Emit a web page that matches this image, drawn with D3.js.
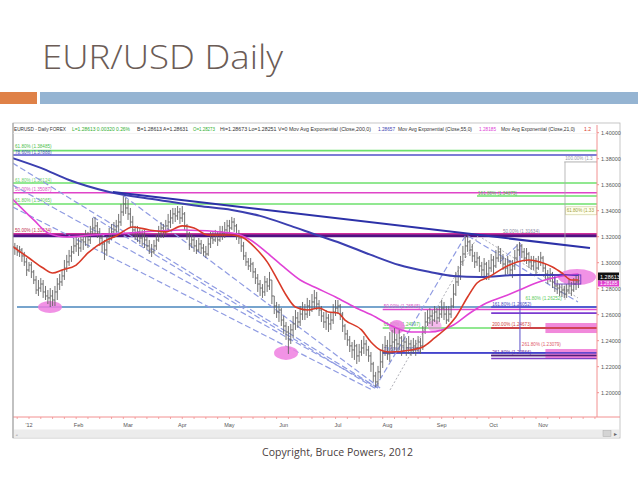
<!DOCTYPE html>
<html><head><meta charset="utf-8">
<script src="https://cdn.jsdelivr.net/npm/d3@7"></script>
<style>body{margin:0;background:#fff;}svg{display:block;}</style>
</head><body>
<svg id="c" width="638" height="479"></svg>
<script>
// ---------------- DATA ----------------
const firstIndex = -6; // trading-day index of first bar (Jan 2 2012 = 0)
const highs = [
1.3152,1.3136,1.3129,1.3113,1.3083,1.3036,
1.3006,1.3006,1.2944,1.2898,1.2867,1.2882,1.2867,1.2821,1.2790,1.2805,
1.2790,1.2821,1.2882,1.2913,1.2944,1.3021,1.3060,1.3098,1.3129,1.3190,
1.3206,1.3190,1.3221,1.3221,1.3252,1.3237,1.3283,1.3344,1.3352,1.3313,
1.3267,1.3221,1.3175,1.3206,1.3267,1.3298,1.3313,1.3329,1.3375,1.3452,
1.3513,1.3498,1.3483,1.3421,1.3360,1.3283,1.3283,1.3267,1.3252,1.3252,
1.3206,1.3175,1.3144,1.3175,1.3221,1.3283,1.3313,1.3298,1.3329,1.3375,
1.3406,1.3421,1.3421,1.3436,1.3421,1.3436,1.3390,1.3298,1.3237,1.3221,
1.3206,1.3175,1.3190,1.3175,1.3144,1.3129,1.3190,1.3237,1.3237,1.3252,
1.3237,1.3283,1.3283,1.3313,1.3329,1.3329,1.3352,1.3344,1.3298,1.3252,
1.3206,1.3160,1.3083,1.3036,1.3036,1.3006,1.2959,1.2913,1.2867,1.2836,
1.2898,1.2882,1.2929,1.2867,1.2744,1.2698,1.2682,1.2651,1.2590,1.2544,
1.2513,1.2529,1.2590,1.2636,1.2621,1.2667,1.2698,1.2682,1.2729,1.2713,
1.2759,1.2790,1.2775,1.2713,1.2667,1.2621,1.2636,1.2605,1.2621,1.2682,
1.2713,1.2713,1.2682,1.2621,1.2529,1.2483,1.2436,1.2390,1.2406,1.2375,
1.2375,1.2406,1.2436,1.2406,1.2360,1.2313,1.2237,1.2160,1.2206,1.2329,
1.2375,1.2436,1.2406,1.2467,1.2483,1.2498,1.2452,1.2483,1.2436,1.2452,
1.2421,1.2436,1.2406,1.2421,1.2406,1.2436,1.2421,1.2513,1.2621,1.2636,
1.2651,1.2636,1.2667,1.2651,1.2667,1.2713,1.2698,1.2667,1.2667,1.2729,
1.2836,1.2929,1.2975,1.3052,1.3129,1.3206,1.3213,1.3175,1.3144,1.3083,
1.3083,1.3052,1.3006,1.3036,1.3006,1.3021,1.3067,1.3052,1.3098,1.3129,
1.3113,1.3067,1.3036,1.3052,1.3021,1.3021,1.3098,1.3144,1.3160,1.3144,
1.3113,1.3113,1.3083,1.3052,1.3052,1.3036,1.3052,1.3083,1.3052,1.2990,
1.2944,1.2959,1.2929,1.2882,1.2867,1.2836,1.2836,1.2821,1.2836,1.2867,
1.2852,1.2882,1.2898,1.2913];
const lows = [
1.3060,1.3052,1.3044,1.3006,1.2975,1.2898,
1.2929,1.2882,1.2836,1.2759,1.2744,1.2775,1.2729,1.2713,1.2682,1.2659,
1.2667,1.2667,1.2713,1.2790,1.2821,1.2867,1.2929,1.2975,1.3006,1.3067,
1.3083,1.3052,1.3083,1.3098,1.3129,1.3113,1.3144,1.3206,1.3221,1.3190,
1.3129,1.3083,1.3021,1.3052,1.3144,1.3175,1.3190,1.3206,1.3237,1.3283,
1.3360,1.3375,1.3329,1.3267,1.3206,1.3175,1.3160,1.3144,1.3129,1.3113,
1.3098,1.3067,1.3044,1.3067,1.3098,1.3160,1.3190,1.3190,1.3206,1.3252,
1.3267,1.3298,1.3313,1.3329,1.3298,1.3313,1.3252,1.3175,1.3098,1.3113,
1.3083,1.3067,1.3083,1.3067,1.3052,1.3036,1.3052,1.3113,1.3144,1.3160,
1.3129,1.3160,1.3175,1.3190,1.3221,1.3221,1.3252,1.3237,1.3175,1.3144,
1.3083,1.3021,1.2975,1.2944,1.2929,1.2882,1.2836,1.2775,1.2744,1.2729,
1.2744,1.2775,1.2790,1.2682,1.2605,1.2575,1.2544,1.2513,1.2452,1.2406,
1.2298,1.2375,1.2421,1.2483,1.2498,1.2513,1.2559,1.2559,1.2575,1.2590,
1.2621,1.2651,1.2636,1.2590,1.2544,1.2498,1.2483,1.2467,1.2483,1.2529,
1.2590,1.2605,1.2559,1.2467,1.2406,1.2360,1.2313,1.2267,1.2252,1.2221,
1.2237,1.2283,1.2298,1.2283,1.2237,1.2160,1.2083,1.2044,1.2052,1.2113,
1.2190,1.2283,1.2252,1.2237,1.2298,1.2329,1.2313,1.2329,1.2283,1.2313,
1.2283,1.2298,1.2283,1.2298,1.2283,1.2313,1.2298,1.2329,1.2452,1.2513,
1.2529,1.2513,1.2544,1.2529,1.2544,1.2575,1.2559,1.2529,1.2544,1.2575,
1.2651,1.2744,1.2821,1.2867,1.2975,1.3036,1.3083,1.3052,1.3006,1.2959,
1.2975,1.2929,1.2898,1.2882,1.2867,1.2867,1.2929,1.2913,1.2959,1.3006,
1.2990,1.2944,1.2898,1.2913,1.2898,1.2882,1.2944,1.3006,1.3052,1.3036,
1.3006,1.2990,1.2959,1.2944,1.2944,1.2913,1.2944,1.2975,1.2929,1.2867,
1.2836,1.2852,1.2805,1.2775,1.2759,1.2744,1.2736,1.2729,1.2729,1.2759,
1.2744,1.2775,1.2790,1.2805];
const closes = [
1.3113,1.3083,1.3098,1.3052,1.3006,1.2944,
1.2982,1.2929,1.2867,1.2790,1.2805,1.2836,1.2775,1.2744,1.2729,1.2744,
1.2713,1.2775,1.2836,1.2852,1.2898,1.2959,1.3006,1.3052,1.3083,1.3129,
1.3144,1.3113,1.3175,1.3160,1.3206,1.3175,1.3237,1.3267,1.3283,1.3237,
1.3190,1.3144,1.3098,1.3160,1.3206,1.3237,1.3252,1.3283,1.3313,1.3390,
1.3452,1.3421,1.3375,1.3313,1.3252,1.3206,1.3237,1.3190,1.3206,1.3175,
1.3129,1.3098,1.3083,1.3129,1.3175,1.3221,1.3267,1.3237,1.3283,1.3313,
1.3344,1.3375,1.3360,1.3390,1.3344,1.3375,1.3283,1.3206,1.3144,1.3175,
1.3129,1.3098,1.3144,1.3113,1.3083,1.3067,1.3144,1.3190,1.3175,1.3206,
1.3175,1.3237,1.3221,1.3252,1.3283,1.3267,1.3313,1.3283,1.3206,1.3190,
1.3129,1.3052,1.3006,1.2975,1.2990,1.2929,1.2882,1.2836,1.2805,1.2775,
1.2852,1.2821,1.2867,1.2744,1.2667,1.2621,1.2636,1.2559,1.2513,1.2467,
1.2406,1.2483,1.2529,1.2575,1.2544,1.2605,1.2636,1.2605,1.2667,1.2636,
1.2698,1.2729,1.2682,1.2636,1.2590,1.2544,1.2575,1.2529,1.2559,1.2621,
1.2651,1.2667,1.2605,1.2513,1.2452,1.2406,1.2360,1.2329,1.2360,1.2283,
1.2313,1.2344,1.2375,1.2329,1.2283,1.2221,1.2129,1.2083,1.2160,1.2237,
1.2313,1.2360,1.2298,1.2360,1.2390,1.2406,1.2375,1.2421,1.2360,1.2390,
1.2344,1.2375,1.2329,1.2360,1.2344,1.2390,1.2360,1.2467,1.2544,1.2575,
1.2590,1.2559,1.2621,1.2575,1.2605,1.2651,1.2605,1.2559,1.2605,1.2667,
1.2759,1.2852,1.2898,1.3006,1.3067,1.3129,1.3160,1.3098,1.3052,1.3006,
1.3036,1.2975,1.2944,1.2990,1.2913,1.2959,1.3021,1.2975,1.3036,1.3083,
1.3036,1.2990,1.2959,1.3006,1.2944,1.2975,1.3036,1.3098,1.3129,1.3083,
1.3036,1.3067,1.3006,1.2975,1.3006,1.2959,1.3006,1.3036,1.2959,1.2913,
1.2882,1.2913,1.2852,1.2821,1.2805,1.2775,1.2790,1.2759,1.2790,1.2821,
1.2790,1.2836,1.2852,1.2861];
const lastQuote = 1.28613;
const lastEma55 = 1.28185;

// moving averages: [trading-day index, price]
const ema200 = [[-7,1.3805],[5,1.3729],[17,1.3636],[34,1.3544],[55,1.3483],[72,1.3436],[86,1.3406],[98,1.3360],
  [111,1.3283],[122,1.3213],[132,1.3152],[145,1.3060],[157,1.2982],[170,1.2929],[180,1.2898],[191,1.2890],
  [208,1.2906],[225,1.2906],[233,1.2906]];
const ema55 = [[-7,1.3490],[2,1.3329],[8,1.3229],[16,1.3198],[27,1.3213],[42,1.3229],[65,1.3252],[86,1.3229],
  [94,1.3175],[101,1.3075],[108,1.2967],[115,1.2867],[121,1.2813],[130,1.2736],[138,1.2659],[147,1.2582],
  [153,1.2521],[162,1.2467],[170,1.2467],[180,1.2521],[187,1.2613],[194,1.2690],[203,1.2752],[208,1.2790],
  [215,1.2844],[222,1.2882],[229,1.2906],[233,1.2913]];
const ema21 = [[-7,1.3125],[0,1.3036],[6,1.2959],[10,1.2921],[14,1.2944],[20,1.2982],[25,1.3075],[33,1.3175],
  [37,1.3206],[44,1.3275],[51,1.3252],[58,1.3237],[65,1.3283],[70,1.3267],[76,1.3213],[81,1.3213],[86,1.3213],
  [91,1.3190],[96,1.3113],[101,1.3006],[105,1.2882],[109,1.2752],[113,1.2659],[118,1.2636],[123,1.2651],
  [127,1.2621],[131,1.2613],[134,1.2559],[141,1.2483],[145,1.2390],[149,1.2329],[153,1.2313],[162,1.2329],
  [167,1.2352],[172,1.2421],[177,1.2498],[181,1.2582],[186,1.2736],[190,1.2844],[195,1.2890],[202,1.2967],
  [207,1.3006],[212,1.3021],[218,1.2998],[222,1.2967],[226,1.2921],[230,1.2867],[233,1.2867]];

const monthLabels = ["'12","Feb","Mar","Apr","May","Jun","Jul","Aug","Sep","Oct","Nov"];
const monthIndex = [0,21,42,65,85,108,131,152,175,197,218];
const priceTicks = [1.40,1.38,1.36,1.34,1.32,1.30,1.28,1.26,1.24,1.22,1.20];

// Fibonacci levels across the whole chart
const fullLevelPrices = [1.3862,1.3829,1.3613,1.3538,1.3452,1.3221,1.3206,1.2659];
const fullLevelLabels = ["61.80% (1.38485)","78.60% (1.37888)","61.80% (1.36124)","50.00% (1.35087)","61.80% (1.34065)","50.00% (1.31634)","",""];
// partial levels: start index, price, label
const partStart = [190,227,150,196,196,150,196,150,196,196];
const partPrices = [1.3513,1.3775,1.2640,1.2659,1.2612,1.2498,1.2498,1.2306,1.2286,1.2263];
const partLabels = ["161.80% (1.34875)","100.00% (1.3","50.00% (1.26545)","161.80% (1.26052)","","61.80% (1.24997)","200.00% (1.24673)","78.60% (1.23060)","261.80% (1.22566)",""];

// trend / fan lines: [idx1, price1, idx2, price2]
const trendLine = [35.6,1.3544,237.9,1.3113];
const fanLines = [[-7,1.3767,148,1.2036],[-7,1.3598,148,1.2036],[-7,1.3429,145.5,1.2021],
  [40.3,1.3513,148.9,1.2036],[27.1,1.3352,147.2,1.2029],[146.7,1.2036,185.3,1.3213],
  [186.2,1.3206,232.8,1.2698],[199.7,1.3006,208.2,1.3152]];
const dotLines = [[153.1,1.2021,190.4,1.3206],[192.1,1.3190,232.8,1.2729]];

// pink highlight ellipses [idx, price]
const highlights = [[8.9,1.2659],[109,1.2306],[156,1.2506],[172,1.2513],[232.4,1.2890]];

// ---------------- DRAW ----------------
const svg = d3.select("#c");
const x = d3.scaleLinear().domain([-7,241]).range([12.5,597.3]);
const y = d3.scaleLinear().domain([1.20,1.40]).range([392.7,132.7]);
const PL = 13, PR = 597, PT = 125, PB = 417;
const SMALL = "'Liberation Sans',Arial,sans-serif";

// slide decoration
svg.append("text").attr("x",42).attr("y",69).text("EUR/USD Daily")
  .attr("font-family","'Open Sans', sans-serif").attr("font-weight",300)
  .attr("font-size",33).attr("fill","#6b5c56").attr("textLength",241).attr("lengthAdjust","spacingAndGlyphs");
svg.append("rect").attr("x",0).attr("y",92).attr("width",37).attr("height",12).attr("fill","#df8147");
svg.append("rect").attr("x",40).attr("y",92).attr("width",598).attr("height",12).attr("fill","#95b4d2");
svg.append("text").attr("x",262).attr("y",456).text("Copyright, Bruce Powers, 2012")
  .attr("font-family","'Open Sans', sans-serif").attr("font-size",10.5).attr("fill","#4a4040")
  .attr("textLength",151).attr("lengthAdjust","spacing");

// chart image frame
svg.append("rect").attr("x",13).attr("y",123).attr("width",607).attr("height",315).attr("fill","#fff").attr("stroke","#b8b8b8").attr("stroke-width",0.8);

const defs = svg.append("defs");
defs.append("clipPath").attr("id","plot").append("rect").attr("x",PL).attr("y",PT).attr("width",PR-PL).attr("height",PB-PT);
const g = svg.append("g").attr("clip-path","url(#plot)");

// full-width levels
const fullStyles = [
  {c:"#6de06d",w:1.6},{c:"#5151c9",w:1.6},{c:"#6de06d",w:1.6},{c:"#e044c8",w:1.6},{c:"#6de06d",w:1.6},
  {c:"#d0309a",w:2},{c:"#4e1483",w:2.6},{c:"#4a86bd",w:1.4}];
const fullLabelColors = ["#4cc04c","#4b4bc0","#6bd06b","#d94dc4","#5cc85c","#c03050","",""];
const fullLabelDy = [-2.5,-0.8,-1.5,-1.5,-1.5,-1.5,0,0];
fullLevelPrices.forEach((p,i)=>{
  g.append("line").attr("x1", i===7 ? 17 : PL).attr("x2",PR).attr("y1",y(p)).attr("y2",y(p))
    .attr("stroke",fullStyles[i].c).attr("stroke-width",fullStyles[i].w);
  if (fullLevelLabels[i]) g.append("text").attr("x",15).attr("y",y(p)+fullLabelDy[i]).text(fullLevelLabels[i])
    .attr("font-family",SMALL).attr("font-size",4.6).attr("fill",fullLabelColors[i]);
});

// partial levels
const partStyles = [
  {c:"#6de06d",w:1.4,t:"#4cb84c"},{c:"#b0b0b0",w:1,t:"#9a9aaa"},{c:"#e04ad0",w:1.6,t:"#d94dc4"},
  {c:"#4646d0",w:1.6,t:"#4646c0"},{c:"#7a3ad0",w:1.8,t:""},{c:"#6de06d",w:1.6,t:"#50c050"},
  {c:"#c8383a",w:1.6,t:"#d04040"},{c:"#4444cc",w:1.6,t:"#4444c0"},{c:"#50207a",w:1.6,t:"#6a2a9a"},{c:"#8040c8",w:1.4,t:""}];
partPrices.forEach((p,i)=>{
  const x2 = (i===5) ? x(196) : PR;
  g.append("line").attr("x1",x(partStart[i])).attr("x2",x2).attr("y1",y(p)).attr("y2",y(p))
    .attr("stroke",partStyles[i].c).attr("stroke-width",partStyles[i].w);
  if (partLabels[i]) g.append("text").attr("x",x(partStart[i])+1).attr("y",y(p)-1.5).text(partLabels[i])
    .attr("font-family",SMALL).attr("font-size",4.6).attr("fill",partStyles[i].t);
});
// magenta target zones
[[1.2536,1.2459],[1.2336,1.2267]].forEach(z=>{
  g.append("rect").attr("x",x(219)).attr("width",PR-x(219)).attr("y",y(z[0])).attr("height",y(z[1])-y(z[0]))
    .attr("fill","#ec62cf").attr("opacity",0.75);
});
g.append("line").attr("x1",x(196)).attr("x2",PR).attr("y1",y(1.2498)).attr("y2",y(1.2498)).attr("stroke","#c8383a").attr("stroke-width",1.4);
g.append("line").attr("x1",x(150)).attr("x2",PR).attr("y1",y(1.2306)).attr("y2",y(1.2306)).attr("stroke","#4444cc").attr("stroke-width",1.4);
g.append("line").attr("x1",x(196)).attr("x2",PR).attr("y1",y(1.2286)).attr("y2",y(1.2286)).attr("stroke","#50207a").attr("stroke-width",1.4);

// extra labels
const lab = (ix,p,t,c)=>g.append("text").attr("x",x(ix)).attr("y",y(p)).text(t)
  .attr("font-family",SMALL).attr("font-size",4.6).attr("fill",c);
lab(210.5,1.2712,"61.80% (1.26252)","#5ccc5c");
lab(209,1.2356,"261.80% (1.23079)","#e05a6a");
lab(201,1.3232,"50.00% (1.31634)","#8888a0");
g.append("rect").attr("x",x(227.6)).attr("y",y(1.3430)).attr("width",31).attr("height",8)
  .attr("fill","#fffff0").attr("stroke","#c8c890").attr("stroke-width",0.6);
lab(228,1.3388,"61.80% (1.33","#a0a040");

// vertical markers
g.append("line").attr("x1",x(208.2)).attr("x2",x(208.2)).attr("y1",y(1.3152)).attr("y2",y(1.2306)).attr("stroke","#5a50c8").attr("stroke-width",1);
g.append("line").attr("x1",x(227.3)).attr("x2",x(227.3)).attr("y1",y(1.3775)).attr("y2",y(1.2713)).attr("stroke","#a8a8a8").attr("stroke-width",0.8);

// fan lines
fanLines.forEach(f=>{
  g.append("line").attr("x1",x(f[0])).attr("y1",y(f[1])).attr("x2",x(f[2])).attr("y2",y(f[3]))
    .attr("stroke","#8f9be2").attr("stroke-width",1.2).attr("stroke-dasharray","6,3");
});
dotLines.forEach(f=>{
  g.append("line").attr("x1",x(f[0])).attr("y1",y(f[1])).attr("x2",x(f[2])).attr("y2",y(f[3]))
    .attr("stroke","#b0b0b8").attr("stroke-width",1).attr("stroke-dasharray","2,2");
});

// pink highlights (behind bars)
const hr = [[12,6],[12,7],[8,7],[7,6],[19,8]];
highlights.forEach((h,i)=>{
  g.append("ellipse").attr("cx",x(h[0])).attr("cy",y(h[1])).attr("rx",hr[i][0]).attr("ry",hr[i][1])
    .attr("fill","#ee7fe0").attr("opacity", i===3 ? 0.55 : 0.85);
});

// OHLC bars
const bars = g.append("g").attr("stroke","#626262").attr("stroke-width",0.9);
closes.forEach((c,k)=>{
  const idx = firstIndex + k, cx = x(idx);
  const o = k>0 ? closes[k-1] : c;
  bars.append("line").attr("x1",cx).attr("x2",cx).attr("y1",y(highs[k])).attr("y2",y(lows[k]));
  bars.append("line").attr("x1",cx-1.2).attr("x2",cx).attr("y1",y(o)).attr("y2",y(o));
  bars.append("line").attr("x1",cx).attr("x2",cx+1.2).attr("y1",y(c)).attr("y2",y(c));
});

// moving averages
const line = d3.line().x(d=>x(d[0])).y(d=>y(d[1])).curve(d3.curveMonotoneX);
g.append("path").attr("d",line(ema200)).attr("fill","none").attr("stroke","#3b3fb0").attr("stroke-width",2);
g.append("path").attr("d",line(ema55)).attr("fill","none").attr("stroke","#e042d6").attr("stroke-width",1.6);
g.append("path").attr("d",line(ema21)).attr("fill","none").attr("stroke","#d83a28").attr("stroke-width",1.6);
g.append("line").attr("x1",x(trendLine[0])).attr("y1",y(trendLine[1])).attr("x2",x(trendLine[2])).attr("y2",y(trendLine[3]))
  .attr("stroke","#2c31a8").attr("stroke-width",2);
g.append("rect").attr("x",x(223)).attr("y",y(1.2906)).attr("width",x(234)-x(223)).attr("height",y(1.2836)-y(1.2906))
  .attr("fill","none").attr("stroke","#6a3ac0").attr("stroke-width",0.9);

// axes lines
svg.append("line").attr("x1",PR).attr("x2",PR).attr("y1",PT).attr("y2",PB).attr("stroke","#f29090").attr("stroke-width",1);
svg.append("line").attr("x1",PL).attr("x2",620).attr("y1",PB).attr("y2",PB).attr("stroke","#f29090").attr("stroke-width",1);
svg.append("line").attr("x1",PL).attr("x2",PL).attr("y1",123).attr("y2",438).attr("stroke","#a0a0a0").attr("stroke-width",1);

// price axis
const ya = svg.append("g");
priceTicks.forEach(p=>{
  ya.append("line").attr("x1",PR).attr("x2",PR+2).attr("y1",y(p)).attr("y2",y(p)).attr("stroke","#f29090");
  ya.append("text").attr("x",PR+4).attr("y",y(p)+2).text(p.toFixed(5))
    .attr("font-family",SMALL).attr("font-size",5.5).attr("fill","#555");
});
// last price boxes
svg.append("rect").attr("x",598).attr("y",272.5).attr("width",21).attr("height",8).attr("fill","#111");
svg.append("text").attr("x",600).attr("y",278.6).text(lastQuote.toFixed(5)).attr("font-family",SMALL).attr("font-size",5.5).attr("fill","#fff");
svg.append("rect").attr("x",598).attr("y",280.5).attr("width",21).attr("height",6).attr("fill","#e040d0");
svg.append("text").attr("x",600).attr("y",285.4).text(lastEma55.toFixed(5)).attr("font-family",SMALL).attr("font-size",4.8).attr("fill","#fff");

// date axis
const xa = svg.append("g");
d3.range(-5,242,5).forEach(i=>{
  xa.append("line").attr("x1",x(i)).attr("x2",x(i)).attr("y1",PB).attr("y2",PB+2).attr("stroke","#f29090").attr("stroke-width",0.8);
});
monthIndex.forEach((m,i)=>{
  xa.append("text").attr("x",x(m)).attr("y",426.5).attr("text-anchor","middle").text(monthLabels[i])
    .attr("font-family",SMALL).attr("font-size",5.5).attr("fill","#555");
});
// scrollbar
svg.append("rect").attr("x",14).attr("y",429.5).attr("width",605).attr("height",8).attr("fill","#ececec");
svg.append("rect").attr("x",603).attr("y",430.5).attr("width",8).attr("height",6).attr("fill","#d4d4d4").attr("stroke","#aaa").attr("stroke-width",0.5);
svg.append("text").attr("x",613.5).attr("y",436).text("▸").attr("font-size",6).attr("fill","#666");
svg.append("text").attr("x",15.5).attr("y",436).text("«").attr("font-size",5).attr("fill","#777");

// header text of the chart window
const hdr = [
  [14,52,"EURUSD - Daily  FOREX","#333"],
  [72,58,"L=1.28613  0.00320  0.26%","#2fae2f"],
  [137,51,"B=1.28613  A=1.28631","#333"],
  [193,22,"O=1.28273","#2fae2f"],
  [220,151,"Hi=1.28673  Lo=1.28251  V=0  Mov Avg Exponential (Close,200,0)","#333"],
  [378,17,"1.28657","#3b3fb0"],
  [398,74,"Mov Avg Exponential (Close,55,0)","#333"],
  [479,17,"1.28185","#e042d6"],
  [501,74,"Mov Avg Exponential (Close,21,0)","#333"],
  [584,7,"1.2","#d83a28"]];
hdr.forEach(h=>{
  svg.append("text").attr("x",h[0]).attr("y",131).text(h[2]).attr("fill",h[3])
    .attr("font-family",SMALL).attr("font-size",5.5)
    .attr("textLength",h[1]).attr("lengthAdjust","spacingAndGlyphs");
});
svg.append("line").attr("x1",13).attr("x2",597).attr("y1",133.5).attr("y2",133.5).attr("stroke","#e8e8e8").attr("stroke-width",0.5);
</script>
</body></html>
